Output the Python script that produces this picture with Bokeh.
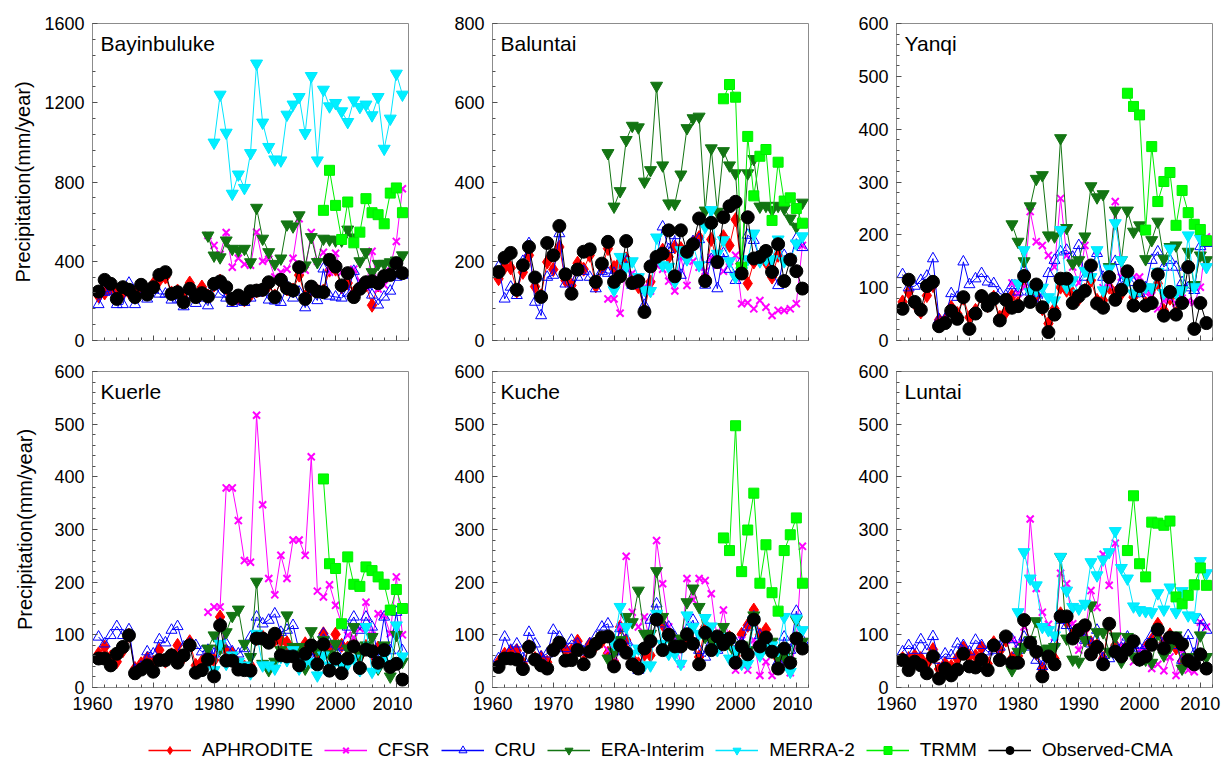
from bokeh.plotting import figure
from bokeh.models import (ColumnDataSource, Range1d, SingleIntervalTicker, Label,
                          Legend, LegendItem, CustomJSTickFormatter)
from bokeh.layouts import row, column
from bokeh.embed import file_html
from bokeh.resources import INLINE

# ---------------------------------------------------------------- data
PRODUCTS = ["APHRODITE", "CFSR", "CRU", "ERA-Interim", "MERRA-2", "TRMM", "Observed-CMA"]
FIRST_YEAR = {"APHRODITE": 1961, "CFSR": 1979, "CRU": 1961, "ERA-Interim": 1979,
              "MERRA-2": 1980, "TRMM": 1998, "Observed-CMA": 1961}
STATIONS = ["Bayinbuluke", "Baluntai", "Yanqi", "Kuerle", "Kuche", "Luntai"]
Y_MAX = [1600, 800, 600, 600, 600, 600]
Y_STEP = [400, 200, 100, 100, 100, 100]
Y_LABEL = "Precipitation(mm/year)"

# Bayinbuluke
bay_aphrodite = [225, 240, 265, 250, 240, 245, 240, 265, 240, 285, 305, 320, 240, 250, 215, 290,
                 230, 270, 225, 280, 300, 265, 205, 215, 205, 230, 250, 255, 280, 225, 300, 260,
                 255, 330, 220, 255, 250, 250, 355, 360, 270, 290, 240, 260, 280, 178, 280]
bay_cfsr = [530, 480, 435, 545, 370, 415, 385, 380, 547, 400, 410, 320, 345, 360, 415, 615, 355,
            545, 400, 445, 345, 440, 345, 330, 360, 300, 270, 450, 260, 280, 375, 500, 766]
bay_cru = [182, 244, 250, 182, 182, 290, 182, 245, 210, 255, 235, 235, 205, 210, 171, 225, 188,
           215, 176, 280, 235, 215, 188, 200, 193, 215, 240, 255, 205, 200, 193, 275, 215, 245,
           166, 245, 202, 362, 225, 220, 215, 240, 350, 270, 280, 230, 180, 220, 250, 320, 330]
bay_era = [530, 429, 420, 505, 463, 455, 463, 395, 670, 514, 446, 387, 414, 586, 576, 632, 379,
           522, 396, 514, 510, 505, 505, 560, 520, 400, 446, 345, 387, 387, 395, 404, 430]
bay_merra = [999, 1241, 1049, 741, 838, 770, 946, 1398, 1100, 977, 914, 909, 1140, 1191, 1229,
             1047, 1335, 909, 1266, 1182, 1199, 1157, 1103, 1212, 1179, 1191, 1137, 1229, 968,
             1120, 1347, 1241]
bay_trmm = [657, 859, 682, 510, 699, 493, 547, 716, 645, 635, 589, 744, 770, 645]
bay_obs = [247, 306, 286, 210, 269, 256, 219, 281, 232, 269, 331, 345, 235, 244, 193, 261, 219,
           239, 222, 286, 298, 269, 210, 227, 210, 249, 252, 256, 294, 219, 306, 264, 252, 370,
           210, 272, 247, 244, 407, 373, 278, 340, 219, 261, 294, 299, 289, 325, 331, 390, 340]

# Baluntai
bal_aphrodite = [156, 185, 183, 125, 172, 215, 136, 113, 198, 179, 236, 152, 139, 195, 180, 215,
                 138, 184, 232, 184, 198, 206, 148, 136, 76, 148, 206, 228, 211, 236, 232, 210,
                 247, 260, 160, 255, 198, 262, 240, 305, 180, 144, 198, 203, 198, 160, 215]
bal_cfsr = [105, 105, 69, 186, 170, 160, 135, 125, 190, 180, 150, 125, 210, 139, 200, 185, 175,
            210, 190, 175, 200, 215, 93, 95, 80, 101, 84, 63, 76, 76, 80, 93, 240]
bal_cru = [186, 105, 135, 114, 200, 245, 97, 63, 160, 165, 270, 143, 127, 160, 175, 160, 131,
           175, 170, 170, 165, 200, 140, 150, 89, 190, 210, 287, 230, 265, 165, 220, 250, 255,
           140, 205, 131, 220, 180, 152, 200, 266, 253, 205, 215, 180, 139, 215, 205, 257, 235]
bal_era = [473, 338, 377, 506, 542, 538, 401, 430, 643, 442, 346, 345, 419, 536, 561, 565, 328,
           485, 325, 478, 442, 422, 186, 422, 458, 338, 340, 330, 340, 333, 308, 287, 348]
bal_merra = [127, 211, 186, 200, 160, 128, 125, 260, 190, 186, 148, 228, 205, 240, 190, 287, 329,
             219, 253, 200, 160, 175, 205, 270, 200, 205, 205, 255, 200, 205, 245, 263]
bal_trmm = [610, 646, 614, 185, 515, 365, 465, 482, 303, 450, 352, 360, 333, 296]
bal_obs = [173, 209, 221, 128, 190, 236, 159, 110, 246, 215, 289, 167, 118, 179, 224, 230, 148,
           194, 249, 148, 162, 251, 145, 150, 72, 187, 211, 219, 278, 162, 278, 224, 243, 308,
           150, 297, 198, 311, 339, 350, 169, 311, 207, 211, 226, 173, 243, 150, 204, 175, 131]

# Yanqi
yan_aphrodite = [73, 92, 70, 54, 85, 104, 39, 38, 63, 51, 80, 44, 57, 84, 66, 82, 44, 54, 84, 70,
                 117, 80, 85, 60, 32, 60, 101, 95, 89, 79, 95, 114, 76, 76, 101, 89, 89, 117, 82,
                 95, 70, 76, 108, 57, 80, 51, 73]
yan_cfsr = [109, 89, 100, 244, 187, 180, 161, 139, 269, 161, 139, 109, 180, 130, 170, 100, 105,
            263, 120, 125, 120, 120, 90, 85, 60, 75, 80, 70, 80, 75, 72, 101, 196]
yan_cru = [125, 100, 103, 114, 122, 155, 39, 41, 89, 82, 149, 106, 117, 127, 111, 108, 89, 85,
           104, 92, 133, 92, 89, 79, 127, 152, 168, 171, 158, 180, 120, 139, 165, 120, 127, 150,
           108, 125, 110, 89, 100, 152, 168, 139, 152, 139, 110, 100, 95, 178, 184]
yan_era = [220, 187, 150, 254, 306, 313, 199, 197, 383, 213, 146, 152, 197, 292, 271, 277, 139,
           246, 152, 246, 206, 218, 154, 190, 225, 155, 177, 180, 95, 168, 105, 161, 152]
yan_merra = [108, 171, 92, 95, 100, 82, 76, 209, 101, 114, 89, 132, 120, 171, 95, 136, 222, 152,
             114, 89, 95, 101, 100, 130, 90, 174, 90, 95, 199, 101, 193, 139]
yan_trmm = [468, 443, 427, 209, 367, 263, 301, 318, 218, 284, 242, 220, 210, 189]
yan_obs = [60, 115, 73, 58, 103, 111, 27, 33, 56, 41, 82, 22, 51, 84, 66, 79, 38, 77, 62, 65, 122,
           73, 106, 63, 16, 49, 117, 117, 71, 84, 94, 142, 70, 62, 120, 77, 96, 131, 66, 103, 66,
           71, 125, 47, 92, 49, 71, 139, 22, 71, 33]

# Kuerle
kue_aphrodite = [64, 77, 58, 49, 70, 99, 36, 45, 55, 48, 71, 50, 62, 80, 58, 87, 42, 49, 61, 52,
                 134, 68, 64, 45, 39, 42, 93, 96, 90, 90, 90, 85, 71, 70, 83, 75, 65, 102, 74, 101,
                 80, 75, 80, 60, 78, 65, 75]
kue_cfsr = [143, 153, 153, 379, 379, 317, 241, 238, 517, 347, 207, 176, 251, 207, 280, 280, 251,
            438, 183, 172, 195, 156, 121, 99, 95, 112, 162, 99, 140, 137, 102, 210, 100]
kue_cru = [96, 83, 99, 116, 99, 110, 33, 39, 68, 64, 91, 85, 109, 116, 77, 83, 80, 68, 71, 64, 121,
           83, 68, 64, 74, 96, 134, 121, 128, 140, 105, 109, 118, 70, 60, 55, 68, 102, 83, 70, 77,
           115, 134, 109, 134, 115, 60, 134, 70, 143, 70]
kue_era = [74, 99, 74, 105, 136, 148, 83, 58, 201, 45, 33, 49, 71, 137, 77, 77, 36, 107, 71, 90,
           63, 83, 42, 74, 115, 61, 80, 96, 36, 80, 21, 100, 49]
kue_merra = [33, 83, 45, 61, 49, 42, 27, 102, 42, 42, 36, 58, 52, 71, 36, 49, 49, 23, 61, 42, 52,
             42, 45, 55, 33, 115, 30, 39, 60, 45, 118, 59]
kue_trmm = [396, 235, 226, 121, 248, 196, 192, 229, 222, 210, 196, 147, 186, 150]
kue_obs = [55, 55, 42, 64, 77, 99, 27, 34, 42, 30, 52, 52, 61, 47, 61, 80, 28, 33, 53, 21, 118, 51,
           51, 34, 33, 32, 93, 93, 85, 102, 61, 59, 59, 42, 64, 80, 44, 82, 32, 55, 27, 55, 78, 37,
           72, 69, 47, 71, 39, 45, 15]

# Kuche
kuc_aphrodite = [48, 63, 68, 70, 45, 78, 55, 57, 48, 73, 82, 72, 70, 88, 48, 82, 80, 88, 65, 50,
                 115, 90, 55, 45, 63, 61, 130, 120, 100, 75, 80, 95, 85, 58, 115, 100, 95, 88, 95,
                 60, 101, 118, 147, 100, 110, 75, 55]
kuc_cfsr = [71, 58, 115, 249, 143, 115, 134, 83, 279, 197, 115, 90, 45, 207, 166, 207, 203, 178,
            90, 147, 83, 33, 90, 33, 90, 23, 49, 23, 39, 45, 28, 90, 268]
kuc_cru = [55, 96, 71, 83, 55, 105, 83, 58, 64, 109, 96, 74, 90, 83, 68, 83, 96, 115, 121, 68, 112,
           90, 71, 33, 74, 128, 159, 121, 115, 96, 83, 109, 128, 71, 58, 85, 71, 100, 90, 85, 85,
           115, 134, 99, 85, 75, 49, 96, 71, 145, 90]
kuc_era = [55, 68, 90, 134, 124, 184, 102, 102, 221, 134, 96, 83, 93, 162, 188, 153, 96, 90, 83,
           115, 83, 64, 80, 71, 137, 74, 77, 87, 58, 58, 49, 128, 87]
kuc_merra = [83, 153, 115, 64, 74, 42, 42, 140, 83, 64, 64, 45, 137, 115, 102, 132, 116, 71, 96,
             55, 71, 45, 45, 128, 61, 83, 80, 71, 134, 30, 131, 109]
kuc_trmm = [284, 260, 497, 220, 299, 369, 198, 271, 180, 145, 260, 290, 322, 198]
kuc_obs = [39, 55, 55, 53, 35, 77, 53, 42, 36, 71, 85, 51, 52, 71, 44, 68, 83, 95, 97, 40, 80, 66,
           44, 36, 74, 88, 129, 71, 100, 78, 78, 101, 83, 44, 104, 71, 97, 82, 93, 47, 78, 63,
           129, 78, 95, 68, 36, 74, 47, 93, 74]

# Luntai
lun_aphrodite = [55, 55, 60, 55, 45, 72, 35, 45, 40, 55, 75, 60, 60, 75, 45, 85, 70, 90, 55, 60,
                 125, 85, 65, 35, 60, 55, 140, 125, 100, 105, 110, 85, 80, 55, 120, 80, 70, 80, 85,
                 60, 75, 90, 120, 85, 100, 75, 50]
lun_cfsr = [90, 83, 115, 320, 188, 143, 120, 96, 217, 197, 121, 71, 102, 184, 152, 253, 194, 274,
            77, 71, 49, 71, 74, 36, 44, 32, 58, 23, 71, 33, 30, 124, 115]
lun_cru = [68, 80, 71, 91, 71, 97, 52, 64, 61, 83, 80, 68, 90, 80, 68, 71, 77, 96, 91, 71, 96, 77,
           52, 40, 60, 85, 128, 118, 95, 100, 90, 83, 109, 55, 55, 80, 75, 96, 80, 75, 80, 99, 109,
           85, 90, 80, 52, 99, 64, 128, 109]
lun_era = [33, 68, 77, 90, 126, 71, 74, 77, 248, 93, 53, 49, 90, 156, 105, 105, 68, 97, 49, 96, 59,
           52, 53, 47, 102, 61, 77, 99, 36, 58, 49, 99, 58]
lun_merra = [143, 257, 207, 194, 115, 109, 99, 248, 184, 153, 150, 159, 238, 213, 243, 257, 297,
             227, 207, 154, 147, 145, 143, 179, 148, 190, 143, 183, 137, 134, 240, 217]
lun_trmm = [260, 364, 235, 210, 314, 312, 308, 316, 172, 159, 175, 195, 227, 194]
lun_obs = [52, 33, 49, 42, 27, 59, 17, 36, 23, 34, 64, 40, 38, 53, 33, 80, 52, 97, 47, 47, 128, 85,
           68, 21, 59, 44, 135, 135, 93, 109, 118, 63, 77, 44, 121, 68, 59, 72, 88, 53, 59, 81,
           110, 74, 95, 93, 82, 51, 44, 63, 36]

SERIES = {
    "Bayinbuluke": [bay_aphrodite, bay_cfsr, bay_cru, bay_era, bay_merra, bay_trmm, bay_obs],
    "Baluntai": [bal_aphrodite, bal_cfsr, bal_cru, bal_era, bal_merra, bal_trmm, bal_obs],
    "Yanqi": [yan_aphrodite, yan_cfsr, yan_cru, yan_era, yan_merra, yan_trmm, yan_obs],
    "Kuerle": [kue_aphrodite, kue_cfsr, kue_cru, kue_era, kue_merra, kue_trmm, kue_obs],
    "Kuche": [kuc_aphrodite, kuc_cfsr, kuc_cru, kuc_era, kuc_merra, kuc_trmm, kuc_obs],
    "Luntai": [lun_aphrodite, lun_cfsr, lun_cru, lun_era, lun_merra, lun_trmm, lun_obs],
}

# ---------------------------------------------------------------- styles
FONT = "Liberation Sans"
STYLE = {
    "APHRODITE":    dict(marker="diamond", line="#ff0000", fill="#ff0000", size=14, mlw=1),
    "CFSR":         dict(marker="x", line="#ff00ff", fill=None, size=10, mlw=2),
    "CRU":          dict(marker="triangle", line="#0000ff", fill=None, size=11, mlw=1),
    "ERA-Interim":  dict(marker="inverted_triangle", line="#137513", fill="#137513", size=12, mlw=1),
    "MERRA-2":      dict(marker="inverted_triangle", line="#00e5ff", fill="#00f0ff", size=12, mlw=1),
    "TRMM":         dict(marker="square", line="#00ee00", fill="#00ff00", size=10, mlw=1),
    "Observed-CMA": dict(marker="circle", line="#000000", fill="#000000", size=13, mlw=1),
}

FRAME = 316
COL_LEFT = [92, 80, 84]
COL_RIGHT = [4, 4, 11]
ROW_TOP = [23, 21]
ROW_FRAME = [317, 316]
ROW_BOTTOM = [10, 35]
AXIS_GRAY = "#8c8c8c"
TICK_GRAY = "#505050"


def series_source(product, values):
    first = FIRST_YEAR[product]
    years = list(range(first, first + len(values)))
    return ColumnDataSource(dict(year=years, value=values))


def draw_series(p, product, src, line_width=1):
    st = STYLE[product]
    lr = p.line("year", "value", source=src, line_color=st["line"], line_width=line_width)
    sr = p.scatter("year", "value", source=src, marker=st["marker"], size=st["size"],
                   line_color=st["line"], fill_color=st["fill"], line_width=st["mlw"])
    return lr, sr


def make_panel(i, sources):
    r, c = divmod(i, 3)
    station = STATIONS[i]
    ymax = Y_MAX[i]
    p = figure(width=COL_LEFT[c] + FRAME + COL_RIGHT[c],
               height=ROW_TOP[r] + ROW_FRAME[r] + ROW_BOTTOM[r],
               min_border_left=COL_LEFT[c], min_border_right=COL_RIGHT[c],
               min_border_top=ROW_TOP[r], min_border_bottom=ROW_BOTTOM[r],
               x_range=Range1d(1960, 2012), y_range=Range1d(0, ymax),
               output_backend="svg", toolbar_location=None)
    p.grid.visible = False
    p.outline_line_color = AXIS_GRAY
    p.outline_line_width = 1
    p.background_fill_color = "white"
    p.border_fill_color = "white"

    p.xaxis.ticker = SingleIntervalTicker(interval=10, num_minor_ticks=5)
    p.yaxis.ticker = SingleIntervalTicker(interval=Y_STEP[i], num_minor_ticks=5)
    for ax in (p.xaxis[0], p.yaxis[0]):
        ax.axis_line_color = AXIS_GRAY
        ax.major_tick_in = 5
        ax.major_tick_out = 0
        ax.minor_tick_in = 3
        ax.minor_tick_out = 0
        ax.major_tick_line_color = TICK_GRAY
        ax.minor_tick_line_color = TICK_GRAY
        ax.major_label_text_font = FONT
        ax.major_label_text_font_size = "18px"
        ax.major_label_text_color = "black"
    p.yaxis.major_label_standoff = 8
    p.xaxis.major_label_standoff = 9
    if r == 0:
        p.xaxis.formatter = CustomJSTickFormatter(code="return ''")
        p.xaxis.major_label_standoff = 0
    if c == 0:
        p.yaxis.axis_label = Y_LABEL
        p.yaxis.axis_label_text_font = FONT
        p.yaxis.axis_label_text_font_size = "20px"
        p.yaxis.axis_label_text_font_style = "normal"
        p.yaxis.axis_label_text_color = "black"
        p.yaxis.axis_label_standoff = 7 if len(str(ymax)) == 4 else 15

    for product, src in zip(PRODUCTS, sources):
        draw_series(p, product, src)

    p.add_layout(Label(x=1960 + 8 * 52 / FRAME, y=ymax * (1 - 8 / ROW_FRAME[r]),
                       text=station, text_font=FONT, text_font_size="21px",
                       text_baseline="top", text_align="left", text_color="black"))
    return p


all_sources = [[series_source(prod, vals) for prod, vals in zip(PRODUCTS, SERIES[s])]
               for s in STATIONS]
panels = [make_panel(i, all_sources[i]) for i in range(6)]

# ---------------------------------------------------------------- legend strip
# The strip's ranges sit away from the years, so its renderers show only as legend keys.
leg = figure(width=1223, height=39, x_range=Range1d(0, 1), y_range=Range1d(-2, -1),
             min_border=0, output_backend="svg", toolbar_location=None)
leg.axis.visible = False
leg.grid.visible = False
leg.outline_line_color = None
items = []
for product, src in zip(PRODUCTS, all_sources[0]):
    lr, sr = draw_series(leg, product, src, line_width=1.5)
    items.append(LegendItem(label=product, renderers=[lr, sr]))
legend = Legend(items=items, orientation="horizontal", location=(148, 0),
                glyph_width=43, glyph_height=20, label_height=20, label_standoff=11,
                spacing=11, padding=0, margin=0, border_line_color=None,
                background_fill_alpha=0, label_text_font=FONT, label_text_font_size="19px",
                label_text_color="black")
leg.add_layout(legend)

layout = column(row(*panels[:3]), row(*panels[3:]), leg)
open("out.html", "w").write(file_html(layout, INLINE))
